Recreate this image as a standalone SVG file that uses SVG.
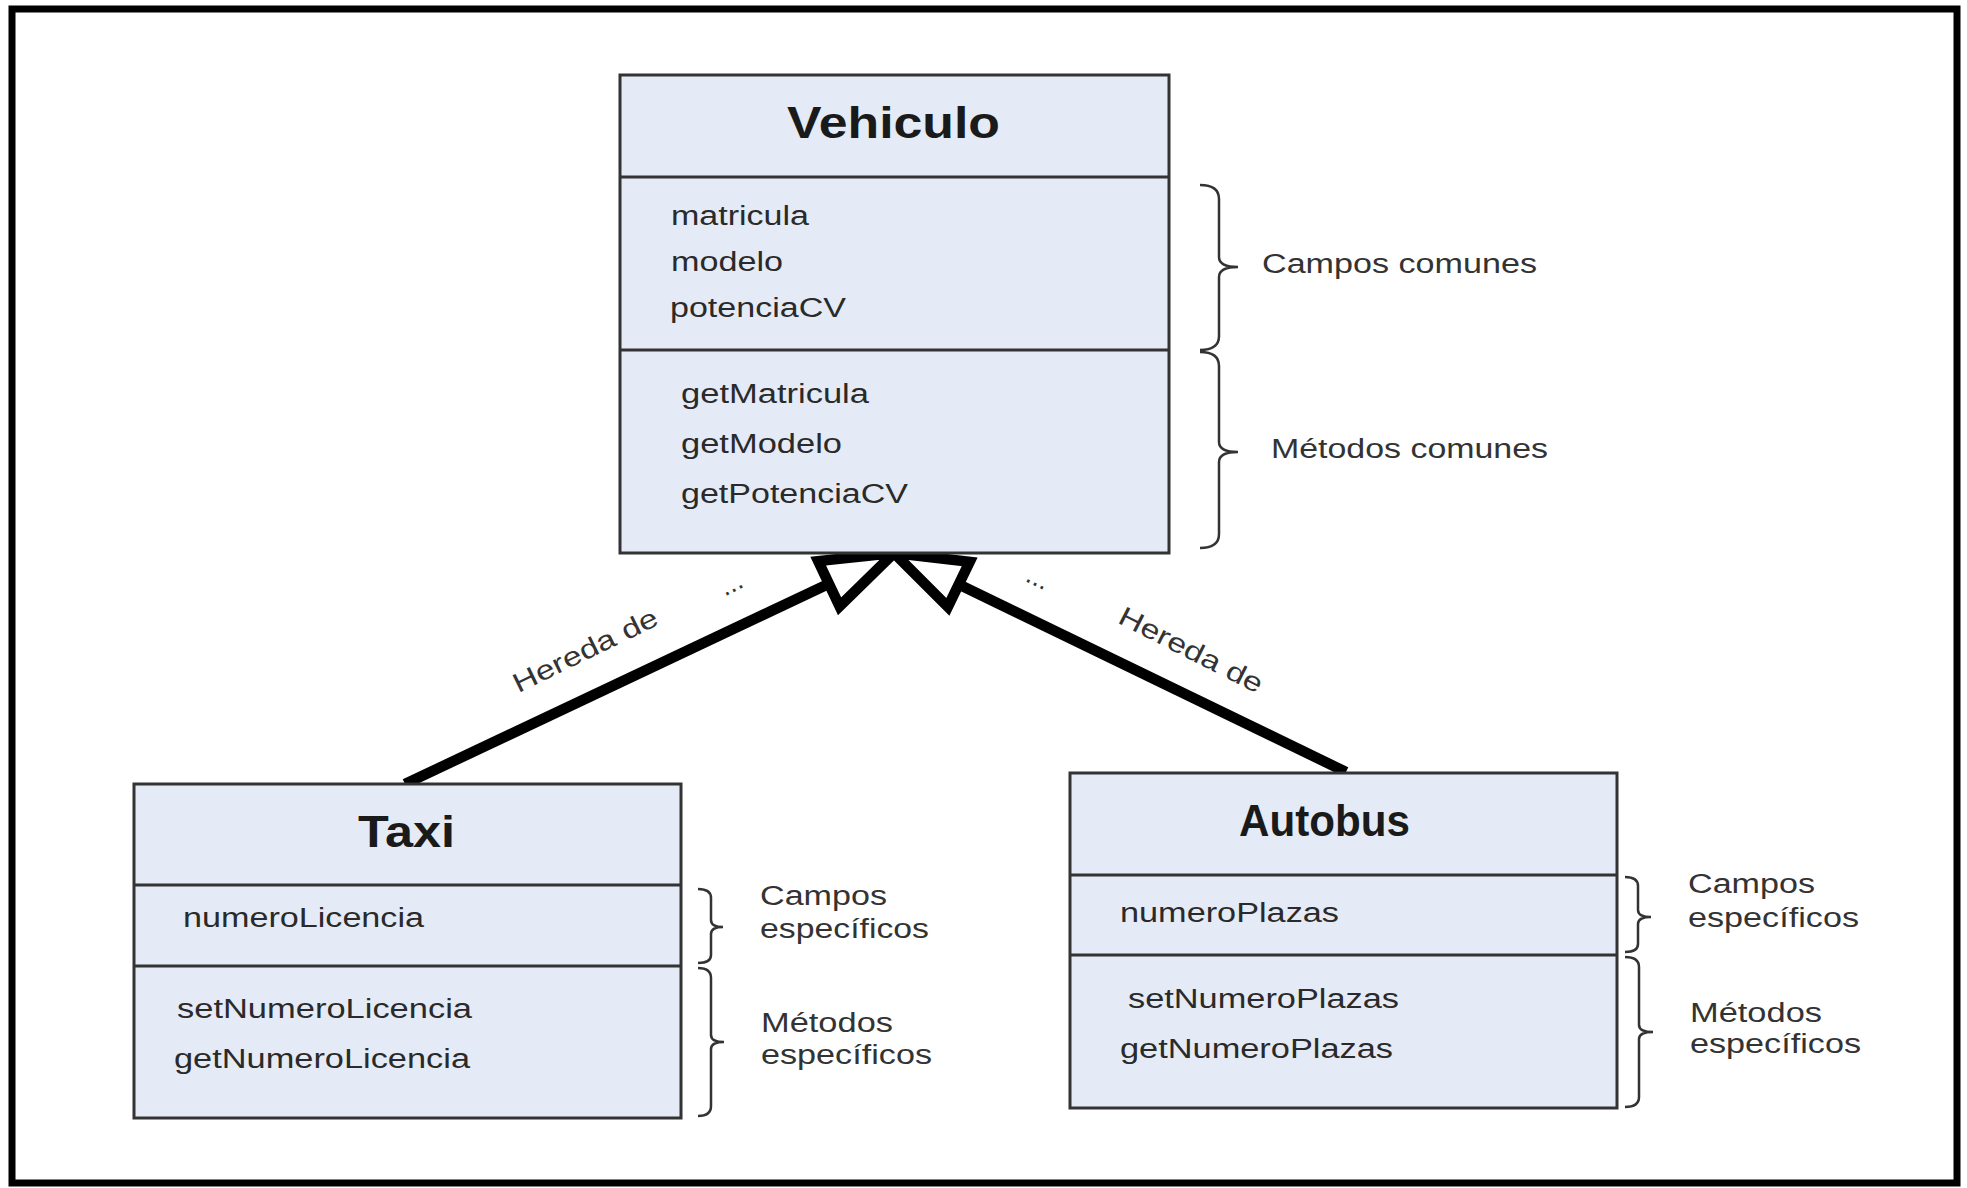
<svg xmlns="http://www.w3.org/2000/svg" width="1967" height="1188" viewBox="0 0 1967 1188">
<style>
.box{fill:#e5ebf6;stroke:#333;stroke-width:3}
.div{stroke:#333;stroke-width:3}
.title{font-family:"Liberation Sans",Arial,sans-serif;font-weight:bold;font-size:44px;fill:#1a1a1a}
.t{font-family:"Liberation Sans",Arial,sans-serif;font-size:27px;fill:#2a2a2a}
.lbl{font-family:"Liberation Sans",Arial,sans-serif;font-size:27px;fill:#333}
.brace{fill:none;stroke:#333;stroke-width:2.5}
.conn{stroke:#000;stroke-width:10.5;fill:none}
</style>
<defs>
<marker id="inh" markerUnits="userSpaceOnUse" viewBox="-85 -40 95 80" refX="0" refY="0" markerWidth="95" markerHeight="80" orient="auto" overflow="visible">
<path d="M0,0 L-72,-25 L-72,25 Z" fill="#fff" stroke="#000" stroke-width="10.5" stroke-linejoin="miter"/>
</marker>
</defs>
<rect x="12" y="9" width="1945" height="1174" fill="#fff" stroke="#000" stroke-width="7"/>

<g id="connectors">
<line class="conn" x1="405" y1="784" x2="894" y2="553" marker-end="url(#inh)"/>
<line class="conn" x1="1346" y1="772" x2="894" y2="553" marker-end="url(#inh)"/>
<text class="lbl" x="508" y="667" textLength="158" lengthAdjust="spacingAndGlyphs" transform="rotate(-26 570 658)">Hereda de</text>
<text class="lbl" x="1112" y="659" textLength="158" lengthAdjust="spacingAndGlyphs" transform="rotate(27 1191 650)">Hereda de</text>
<text class="lbl" x="722" y="592" font-size="16" transform="rotate(-26 733 588)">...</text>
<text class="lbl" x="1025" y="586" font-size="16" transform="rotate(26 1036 582)">...</text>
</g>

<g id="vehiculo">
<rect class="box" x="620" y="75" width="549" height="478"/>
<line class="div" x1="620" y1="177" x2="1169" y2="177"/>
<line class="div" x1="620" y1="350" x2="1169" y2="350"/>
<text class="title" x="787" y="138" textLength="213" lengthAdjust="spacingAndGlyphs">Vehiculo</text>
<text class="t" x="671" y="225" textLength="138" lengthAdjust="spacingAndGlyphs">matricula</text>
<text class="t" x="671" y="271" textLength="112" lengthAdjust="spacingAndGlyphs">modelo</text>
<text class="t" x="670" y="317" textLength="176" lengthAdjust="spacingAndGlyphs">potenciaCV</text>
<text class="t" x="681" y="403" textLength="188" lengthAdjust="spacingAndGlyphs">getMatricula</text>
<text class="t" x="681" y="453" textLength="161" lengthAdjust="spacingAndGlyphs">getModelo</text>
<text class="t" x="681" y="503" textLength="227" lengthAdjust="spacingAndGlyphs">getPotenciaCV</text>
<path class="brace" d="M1200,185 Q1219,185 1219,199 L1219,257 Q1219,267 1238,267 Q1219,267 1219,277 L1219,336 Q1219,350 1200,350"/>
<path class="brace" d="M1200,352 Q1219,352 1219,366 L1219,442 Q1219,452 1238,452 Q1219,452 1219,462 L1219,534 Q1219,548 1200,548"/>
<text class="lbl" x="1262" y="273" textLength="275" lengthAdjust="spacingAndGlyphs">Campos comunes</text>
<text class="lbl" x="1271" y="458" textLength="277" lengthAdjust="spacingAndGlyphs">Métodos comunes</text>
</g>

<g id="taxi">
<rect class="box" x="134" y="784" width="547" height="334"/>
<line class="div" x1="134" y1="885" x2="681" y2="885"/>
<line class="div" x1="134" y1="966" x2="681" y2="966"/>
<text class="title" x="358" y="847" textLength="97" lengthAdjust="spacingAndGlyphs">Taxi</text>
<text class="t" x="183" y="927" textLength="241" lengthAdjust="spacingAndGlyphs">numeroLicencia</text>
<text class="t" x="177" y="1018" textLength="295" lengthAdjust="spacingAndGlyphs">setNumeroLicencia</text>
<text class="t" x="174" y="1068" textLength="296" lengthAdjust="spacingAndGlyphs">getNumeroLicencia</text>
<path class="brace" d="M698,889 Q711,889 711,898 L711,920 Q711,927 723,927 Q711,927 711,934 L711,955 Q711,963 698,963"/>
<path class="brace" d="M698,968 Q711,968 711,978 L711,1035 Q711,1042 724,1042 Q711,1042 711,1049 L711,1106 Q711,1116 698,1116"/>
<text class="lbl" x="760" y="905" textLength="127" lengthAdjust="spacingAndGlyphs">Campos</text>
<text class="lbl" x="760" y="938" textLength="169" lengthAdjust="spacingAndGlyphs">específicos</text>
<text class="lbl" x="761" y="1032" textLength="132" lengthAdjust="spacingAndGlyphs">Métodos</text>
<text class="lbl" x="761" y="1064" textLength="171" lengthAdjust="spacingAndGlyphs">específicos</text>
</g>

<g id="autobus">
<rect class="box" x="1070" y="773" width="547" height="335"/>
<line class="div" x1="1070" y1="875" x2="1617" y2="875"/>
<line class="div" x1="1070" y1="955" x2="1617" y2="955"/>
<text class="title" x="1239" y="836" textLength="171" lengthAdjust="spacingAndGlyphs">Autobus</text>
<text class="t" x="1120" y="922" textLength="219" lengthAdjust="spacingAndGlyphs">numeroPlazas</text>
<text class="t" x="1128" y="1008" textLength="271" lengthAdjust="spacingAndGlyphs">setNumeroPlazas</text>
<text class="t" x="1120" y="1058" textLength="273" lengthAdjust="spacingAndGlyphs">getNumeroPlazas</text>
<path class="brace" d="M1625,877 Q1638,877 1638,886 L1638,910 Q1638,917 1651,917 Q1638,917 1638,924 L1638,944 Q1638,952 1625,952"/>
<path class="brace" d="M1625,957 Q1639,957 1639,967 L1639,1025 Q1639,1032 1653,1032 Q1639,1032 1639,1039 L1639,1097 Q1639,1107 1625,1107"/>
<text class="lbl" x="1688" y="893" textLength="127" lengthAdjust="spacingAndGlyphs">Campos</text>
<text class="lbl" x="1688" y="927" textLength="171" lengthAdjust="spacingAndGlyphs">específicos</text>
<text class="lbl" x="1690" y="1022" textLength="132" lengthAdjust="spacingAndGlyphs">Métodos</text>
<text class="lbl" x="1690" y="1053" textLength="171" lengthAdjust="spacingAndGlyphs">específicos</text>
</g>
</svg>
